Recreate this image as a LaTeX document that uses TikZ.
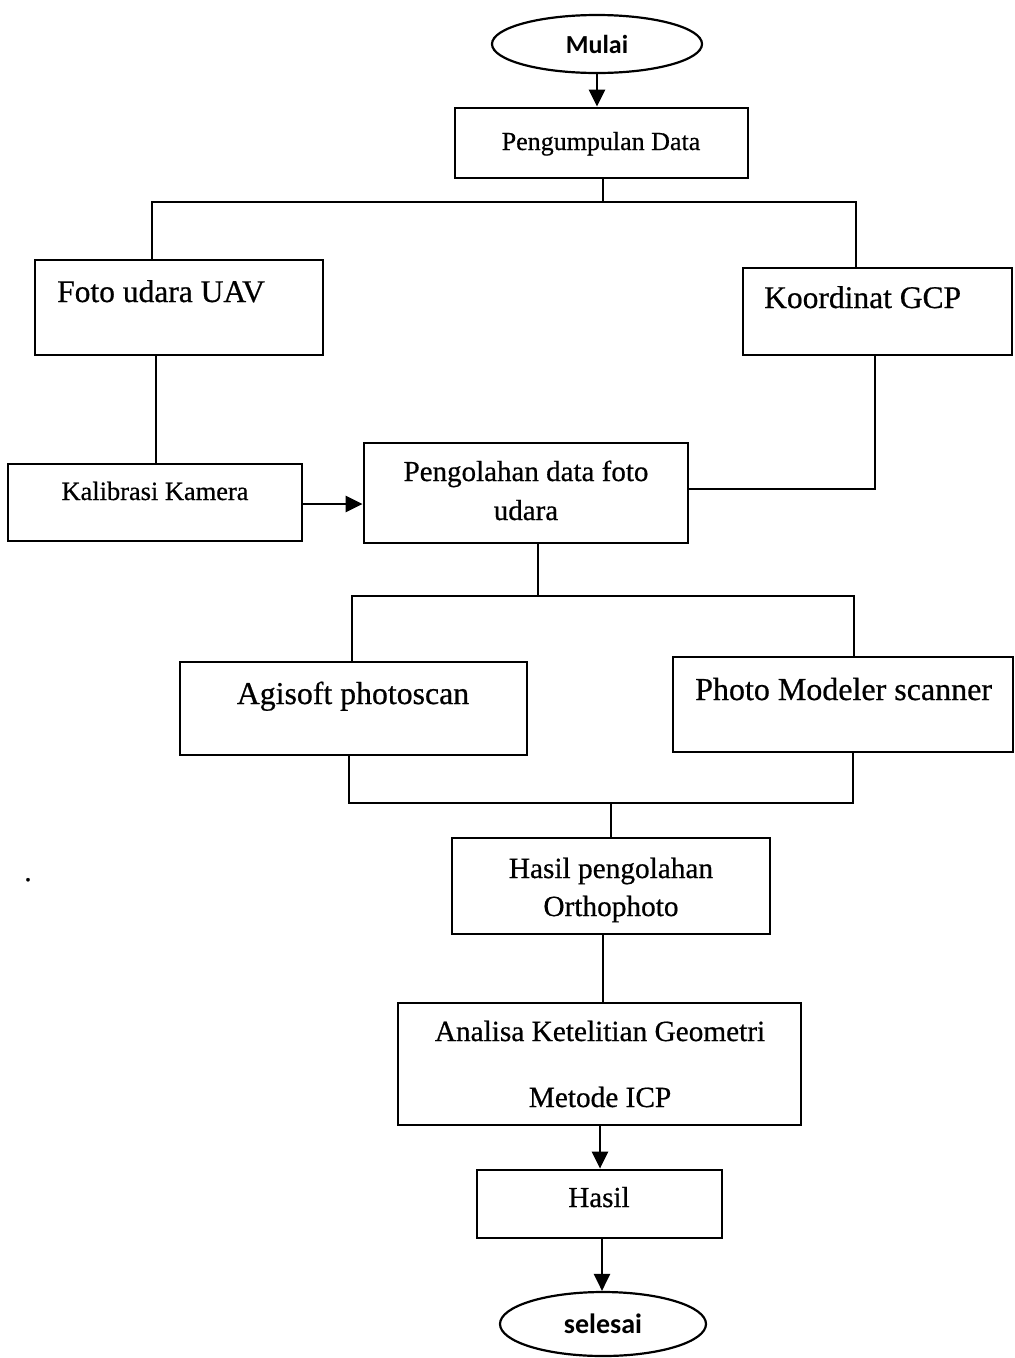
\documentclass[tikz,border=0pt]{standalone}
\usepackage{fontspec}
\setmainfont[FakeBold=0.6]{Liberation Serif}
\newfontfamily\calfont{Carlito}
\usetikzlibrary{arrows.meta,shapes.geometric}
\begin{document}
\begin{tikzpicture}[x=1pt,y=-1pt,
  box/.style={draw,line width=2.8pt,rectangle,inner sep=0pt},
  oval/.style={draw,line width=2.2pt,ellipse,inner sep=0pt},
  conn/.style={line width=2.4pt},
  arr/.style={line width=2.4pt,-{Triangle[length=17pt,width=16pt]}},
  fs/.style={font=\fontsize{#1}{38}\selectfont,inner sep=0pt},
  cs/.style={font=\calfont\bfseries\fontsize{#1}{#1}\selectfont,inner sep=0pt},
]
\useasboundingbox (0,0) rectangle (1015,1358);

% shapes
\node[oval,minimum width=210pt,minimum height=58pt] (mulai) at (597,44) {};
\node[box,minimum width=293pt,minimum height=70pt] (pd) at (601.5,143) {};
\node[box,minimum width=288pt,minimum height=95pt] (foto) at (179,307.5) {};
\node[box,minimum width=269pt,minimum height=87pt] (gcp) at (877.5,311.5) {};
\node[box,minimum width=294pt,minimum height=77pt] (kal) at (155,502.5) {};
\node[box,minimum width=324pt,minimum height=100pt] (olah) at (526,493) {};
\node[box,minimum width=347pt,minimum height=93pt] (agi) at (353.5,708.5) {};
\node[box,minimum width=340pt,minimum height=95pt] (pms) at (843,704.5) {};
\node[box,minimum width=318pt,minimum height=96pt] (hp) at (611,886) {};
\node[box,minimum width=403pt,minimum height=122pt] (an) at (599.5,1064) {};
\node[box,minimum width=245pt,minimum height=68pt] (hs) at (599.5,1204) {};
\node[oval,minimum width=206pt,minimum height=64pt] (selesai) at (603,1324) {};

% texts
\node[cs=26,anchor=base] (mulai-t) at (597,53) {Mulai};
\node[fs=26,anchor=base] (pd-t) at (601,150) {Pengumpulan Data};
\node[fs=31.5,anchor=base west] (foto-t) at (57,302) {Foto udara UAV};
\node[fs=31.5,anchor=base west] (gcp-t) at (764,308) {Koordinat GCP};
\node[fs=26.4,anchor=base] (kal-t) at (155,500) {Kalibrasi Kamera};
\node[fs=29,anchor=base] (olah-t1) at (526,481) {Pengolahan data foto};
\node[fs=29,anchor=base] (olah-t2) at (526,520) {udara};
\node[fs=31.8,anchor=base] (agi-t) at (353,704) {Agisoft photoscan};
\node[fs=32,anchor=base west] (pms-t) at (695,700) {Photo Modeler scanner};
\node[fs=29.3,anchor=base] (hp-t1) at (611,878) {Hasil pengolahan};
\node[fs=29.3,anchor=base] (hp-t2) at (611,916) {Orthophoto};
\node[fs=29.3,anchor=base] (an-t1) at (600,1041) {Analisa Ketelitian Geometri};
\node[fs=29.3,anchor=base] (an-t2) at (600,1107) {Metode ICP};
\node[fs=29,anchor=base] (hs-t) at (599,1207) {Hasil};
\node[cs=28,anchor=base] (selesai-t) at (603,1333) {selesai};
\node[fs=29,anchor=base] (dot) at (28,881) {.};

% junction coordinates
\coordinate (j1) at (603,202);
\coordinate (jl) at (152,202);
\coordinate (jr) at (856,202);
\coordinate (k1) at (156,0);
\coordinate (ka) at (330,504);
\coordinate (g1) at (875,489);
\coordinate (o1) at (538,596);
\coordinate (al) at (352,596);
\coordinate (ar) at (854,596);
\coordinate (bl) at (349,803);
\coordinate (br) at (853,803);
\coordinate (b1) at (611,803);
\coordinate (h1) at (603,0);
\coordinate (a1) at (600,0);
\coordinate (s1) at (602,0);

% connectors
\draw[arr] (mulai.south) -- (mulai.south |- pd.north);
\draw[conn] (pd.south -| j1) -- (j1);
\draw[conn] (foto.north -| jl) -- (jl) -- (jr) -- (gcp.north -| jr);
\draw[conn] (foto.south -| k1) -- (kal.north -| k1);
\draw[arr] (kal.east |- ka) -- (olah.west |- ka);
\draw[conn] (gcp.south -| g1) -- (g1) -- (olah.east |- g1);
\draw[conn] (olah.south -| o1) -- (o1);
\draw[conn] (agi.north -| al) -- (al) -- (ar) -- (pms.north -| ar);
\draw[conn] (agi.south -| bl) -- (bl) -- (br) -- (pms.south -| br);
\draw[conn] (b1) -- (hp.north -| b1);
\draw[conn] (hp.south -| h1) -- (an.north -| h1);
\draw[arr] (an.south -| a1) -- (hs.north -| a1);
\draw[arr] (hs.south -| s1) -- (selesai.north -| s1);
\end{tikzpicture}
\end{document}
